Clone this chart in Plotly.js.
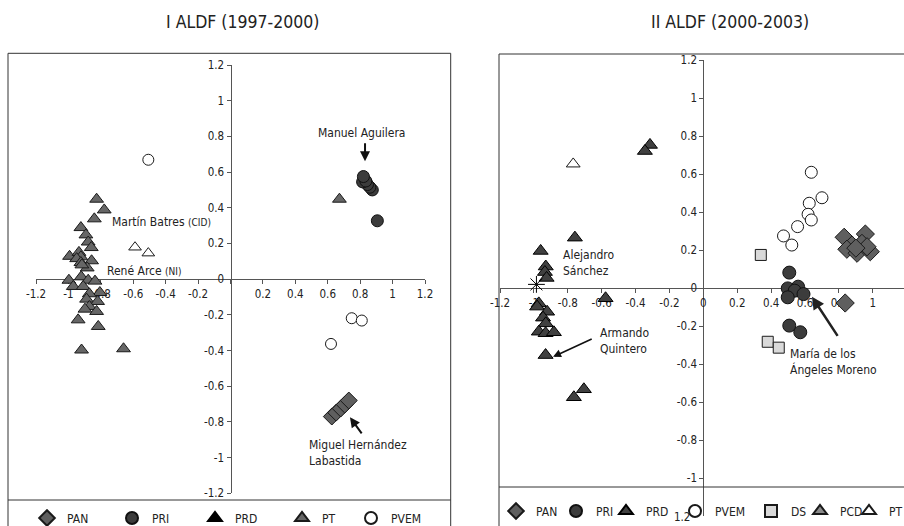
<!DOCTYPE html>
<html>
<head>
<meta charset="utf-8">
<script src="https://cdn.plot.ly/plotly-3.0.1.min.js"></script>
<style>
html,body{margin:0;padding:0;overflow:hidden;background:#fff;width:904px;height:526px;}
#chart{width:910px;height:526px;}
</style>
</head>
<body>
<div id="chart"></div>
<script>
// ---------- Panel titles ----------
const panelTitles = ["I ALDF (1997-2000)", "II ALDF (2000-2003)"];

// ---------- Ticks ----------
const tickVals = [-1.2, -1, -0.8, -0.6, -0.4, -0.2, 0, 0.2, 0.4, 0.6, 0.8, 1, 1.2];
const leftXTickText  = ["-1.2","-1","-0.8","-0.6","-0.4","-0.2","","0.2","0.4","0.6","0.8","1","1.2"];
const leftYTickText  = ["-1.2","-1","-0.8","-0.6","-0.4","-0.2","0","0.2","0.4","0.6","0.8","1","1.2"];
const rightXTickText = ["-1.2","-1","-0.8","-0.6","-0.4","-0.2","0","0.2","0.4","0.6","0.8","1","1.2"];
const rightYTickVals = [-1, -0.8, -0.6, -0.4, -0.2, 0, 0.2, 0.4, 0.6, 0.8, 1, 1.2];
const rightYTickText = ["-1","-0.8","-0.6","-0.4","-0.2","0","0.2","0.4","0.6","0.8","1","1.2"];
const rightHiddenTickLabel = "1.2";

// ---------- Panel 1: I ALDF (1997-2000) ----------
const L_PAN_x = [0.625, 0.652, 0.680, 0.705, 0.730];
const L_PAN_y = [-0.770, -0.748, -0.725, -0.703, -0.680];
const L_PRI_x = [0.906, 0.875, 0.860, 0.845, 0.815, 0.835, 0.820];
const L_PRI_y = [0.327, 0.500, 0.515, 0.530, 0.545, 0.550, 0.575];
const L_PRD_x = [null];
const L_PRD_y = [null];
const L_PT_x = [-0.826,-0.779,-0.840,-0.923,-0.892,-0.878,-0.859,-0.993,-0.935,-0.923,-0.949,-0.923,-0.857,-0.884,-0.917,
                -0.997,-0.970,-0.921,-0.878,-0.836,-0.909,-0.806,-0.871,-0.888,-0.820,-0.871,-0.898,-0.826,-0.940,-0.816,
                -0.919,-0.660,0.672];
const L_PT_y = [0.448,0.388,0.338,0.289,0.248,0.208,0.177,0.128,0.150,0.125,0.115,0.093,0.103,0.063,0.080,
                -0.006,-0.041,0.013,-0.006,-0.011,-0.041,-0.075,-0.082,-0.112,-0.125,-0.153,-0.168,-0.181,-0.228,-0.265,
                -0.397,-0.390,0.448];
const L_PVEM_x = [-0.507, 0.748, 0.810, 0.620];
const L_PVEM_y = [0.669, -0.219, -0.232, -0.363];
const L_OTHER_x = [-0.589, -0.507];   // Martín Batres (CID), René Arce (NI)
const L_OTHER_y = [0.179, 0.146];

// ---------- Panel 2: II ALDF (2000-2003) ----------
const R_PAN_x = [0.831, 0.956, 0.877, 0.936, 0.847, 0.907, 0.985, 0.966, 0.900, 0.837];
const R_PAN_y = [0.267, 0.284, 0.226, 0.235, 0.204, 0.183, 0.191, 0.217, 0.210, -0.079];
const R_PRI_x = [0.507, 0.498, 0.559, 0.539, 0.591, 0.498, 0.507, 0.572];
const R_PRI_y = [0.081, -0.002, 0.007, -0.014, -0.032, -0.049, -0.198, -0.233];
const R_PRD_x = [-0.315,-0.345,-0.758,-0.960,-0.930,-0.935,-0.925,-0.971,-0.981,-0.922,-0.946,-0.930,-0.971,-0.931,-0.882,
                 -0.931,-0.764,-0.705,-0.577];
const R_PRD_y = [0.753,0.721,0.265,0.195,0.113,0.084,0.053,-0.081,-0.098,-0.125,-0.156,-0.186,-0.230,-0.238,-0.233,
                 -0.353,-0.575,-0.533,-0.054];
const R_PVEM_x = [0.637, 0.700, 0.625, 0.618, 0.637, 0.556, 0.473, 0.522];
const R_PVEM_y = [0.609, 0.475, 0.446, 0.388, 0.358, 0.323, 0.274, 0.226];
const R_DS_x = [0.339, 0.380, 0.445];
const R_DS_y = [0.174, -0.283, -0.314];
const R_PCD_x = [null];
const R_PCD_y = [null];
const R_PT_x = [-0.768];
const R_PT_y = [0.653];
const R_IND_x = [-0.985];
const R_IND_y = [0.019];

// ---------- Styling helpers ----------
const FONT = '"DejaVu Sans Condensed", "Liberation Sans Narrow", "DejaVu Sans", sans-serif';
const W = 910, H = 526;
const px = v => v / W;
const py = v => (H - v) / H;

function tr(name, x, y, xa, ya, legend, marker, lw, showlegend) {
  const t = {type:'scatter', mode:'markers', name:name, x:x, y:y, xaxis:xa, yaxis:ya,
          legend:legend, marker:marker, showlegend: showlegend !== false, hoverinfo:'skip', cliponaxis:false};
  if (lw !== null) t.legendwidth = lw;
  return t;
}
const ol = c => ({color:c, width:1});

const data = [
  tr('PAN',  L_PAN_x,  L_PAN_y,  'x','y','legend', {symbol:'diamond', size:13, color:'#5f5f5f', line:ol('#1a1a1a')}, 40),
  tr('PRI',  L_PRI_x,  L_PRI_y,  'x','y','legend', {symbol:'circle', size:12, color:'#3c3c3c', line:ol('#111')}, 38),
  tr('PRD',  L_PRD_x,  L_PRD_y,  'x','y','legend', {symbol:'triangle-up', size:11, color:'#000', line:ol('#000')}, 42),
  tr('PT',   L_PT_x,   L_PT_y,   'x','y','legend', {symbol:'triangle-up', size:12, color:'#666', line:ol('#1a1a1a')}, 24),
  tr('PVEM', L_PVEM_x, L_PVEM_y, 'x','y','legend', {symbol:'circle', size:11, color:'#fff', line:ol('#1a1a1a')}, 40),
  tr('Otros', L_OTHER_x, L_OTHER_y, 'x','y','legend', {symbol:'triangle-up', size:11, color:'#fff', line:ol('#1a1a1a')}, null, false),

  tr('PAN',  R_PAN_x,  R_PAN_y,  'x2','y2','legend2', {symbol:'diamond', size:14, color:'#5f5f5f', line:ol('#1a1a1a')}, 15),
  tr('PRI',  R_PRI_x,  R_PRI_y,  'x2','y2','legend2', {symbol:'circle', size:13, color:'#3c3c3c', line:ol('#111')}, 5),
  tr('PRD',  R_PRD_x,  R_PRD_y,  'x2','y2','legend2', {symbol:'triangle-up', size:13, color:'#404040', line:ol('#000')}, 24),
  tr('PVEM', R_PVEM_x, R_PVEM_y, 'x2','y2','legend2', {symbol:'circle', size:12, color:'#fff', line:ol('#1a1a1a')}, 31),
  tr('DS',   R_DS_x,   R_DS_y,   'x2','y2','legend2', {symbol:'square', size:11, color:'#d9d9d9', line:ol('#1a1a1a')}, 4),
  tr('PCD',  R_PCD_x,  R_PCD_y,  'x2','y2','legend2', {symbol:'triangle-up', size:12, color:'#8a8a8a', line:ol('#1a1a1a')}, 4),
  tr('PT',   R_PT_x,   R_PT_y,   'x2','y2','legend2', {symbol:'triangle-up', size:12, color:'#fff', line:ol('#1a1a1a')}, 14),
  tr('Ind.', R_IND_x,  R_IND_y,  'x2','y2','legend2', {symbol:'asterisk-open', size:14, color:'#000', line:{color:'#000', width:1}}, null, false)
];

const axisCommon = {
  showgrid:false, zeroline:false, showline:true, linecolor:'#555', linewidth:1,
  ticks:'outside', ticklen:4, tickcolor:'#555', tickwidth:1,
  tickfont:{family:FONT, size:11.5, color:'#222'}, layer:'below traces', fixedrange:true
};

const legendCommon = {orientation:'h', xanchor:'left', yanchor:'middle', bgcolor:'rgba(0,0,0,0)',
  font:{family:FONT, size:12, color:'#222'}, entrywidthmode:'pixels', traceorder:'normal', itemwidth:30, itemsizing:'constant'};

const layout = {
  width: W, height: H,
  margin:{l:0, r:0, t:0, b:0, autoexpand:false},
  paper_bgcolor:'#fff', plot_bgcolor:'rgba(0,0,0,0)',
  font:{family:FONT, size:12, color:'#222'},
  xaxis: Object.assign({}, axisCommon, {domain:[px(36), px(425)], range:[-1.2,1.2], anchor:'free', position:py(279.3),
          tickmode:'array', tickvals:tickVals, ticktext:leftXTickText}),
  yaxis: Object.assign({}, axisCommon, {domain:[py(493.3), py(65)], range:[-1.2,1.2], anchor:'free', position:px(230.5),
          tickmode:'array', tickvals:tickVals, ticktext:leftYTickText}),
  xaxis2: Object.assign({}, axisCommon, {domain:[px(500), px(906.7)], range:[-1.2,1.2], anchor:'free', position:py(288),
          tickmode:'array', tickvals:tickVals, ticktext:rightXTickText}),
  yaxis2: Object.assign({}, axisCommon, {domain:[py(516), py(60)], range:[-1.2,1.2], anchor:'free', position:px(703.3),
          tickmode:'array', tickvals:rightYTickVals, ticktext:rightYTickText}),
  legend: Object.assign({}, legendCommon, {x:px(27), y:py(518)}),
  legend2: Object.assign({}, legendCommon, {x:px(496), y:py(511)}),
  shapes: [
    {type:'rect', xref:'paper', yref:'paper', x0:px(8), x1:px(450.7), y0:py(540), y1:py(53.3), line:{color:'#333', width:1}, fillcolor:'rgba(0,0,0,0)', layer:'below'},
    {type:'line', xref:'paper', yref:'paper', x0:px(8), x1:px(450.7), y0:py(500), y1:py(500), line:{color:'#333', width:1}},
    {type:'rect', xref:'paper', yref:'paper', x0:px(499), x1:px(930), y0:py(540), y1:py(54), line:{color:'#333', width:1}, fillcolor:'rgba(0,0,0,0)', layer:'below'},
    {type:'line', xref:'paper', yref:'paper', x0:px(499), x1:px(930), y0:py(487), y1:py(487), line:{color:'#333', width:1}}
  ],
  annotations: [
    {text:panelTitles[0], xref:'paper', yref:'paper', x:px(242), y:py(22), showarrow:false, xanchor:'center', yanchor:'middle', font:{family:FONT, size:17.5, color:'#222'}},
    {text:panelTitles[1], xref:'paper', yref:'paper', x:px(730), y:py(22), showarrow:false, xanchor:'center', yanchor:'middle', font:{family:FONT, size:17.5, color:'#222'}},

    {text:'Manuel Aguilera', xref:'x', yref:'y', x:0.81, y:0.82, showarrow:false, xanchor:'center', yanchor:'middle', font:{family:FONT, size:12}},
    {text:'', xref:'x', yref:'y', axref:'x', ayref:'y', x:0.83, y:0.66, ax:0.83, ay:0.77, showarrow:true, arrowhead:2, arrowsize:1, arrowwidth:2, arrowcolor:'#111'},
    {text:'Martín Batres <span style="font-size:10px">(CID)</span>', xref:'x', yref:'y', x:-0.105, y:0.32, showarrow:false, xanchor:'right', yanchor:'middle', font:{family:FONT, size:12}},
    {text:'René Arce <span style="font-size:10px">(NI)</span>', xref:'x', yref:'y', x:-0.29, y:0.045, showarrow:false, xanchor:'right', yanchor:'middle', font:{family:FONT, size:12}},
    {text:'Miguel Hernández<br>Labastida', xref:'x', yref:'y', x:0.475, y:-0.973, showarrow:false, xanchor:'left', yanchor:'middle', align:'left', font:{family:FONT, size:12}},
    {text:'', xref:'x', yref:'y', axref:'x', ayref:'y', x:0.737, y:-0.774, ax:0.816, ay:-0.873, showarrow:true, arrowhead:2, arrowsize:1, arrowwidth:2, arrowcolor:'#111'},

    {text:'Alejandro<br>Sánchez', xref:'x2', yref:'y2', x:-0.84, y:0.13, showarrow:false, xanchor:'left', yanchor:'middle', align:'left', font:{family:FONT, size:12}},
    {text:'Armando<br>Quintero', xref:'x2', yref:'y2', x:-0.623, y:-0.279, showarrow:false, xanchor:'left', yanchor:'middle', align:'left', font:{family:FONT, size:12}},
    {text:'', xref:'x2', yref:'y2', axref:'x2', ayref:'y2', x:-0.887, y:-0.362, ax:-0.65, ay:-0.265, showarrow:true, arrowhead:2, arrowsize:1, arrowwidth:1.6, arrowcolor:'#111'},
    {text:'María de los<br>Ángeles Moreno', xref:'x2', yref:'y2', x:0.5, y:-0.392, showarrow:false, xanchor:'left', yanchor:'middle', align:'left', font:{family:FONT, size:12}},
    {text:'', xref:'x2', yref:'y2', axref:'x2', ayref:'y2', x:0.641, y:-0.046, ax:0.798, ay:-0.26, showarrow:true, arrowhead:2, arrowsize:1, arrowwidth:2.5, arrowcolor:'#222'},

    {text:rightHiddenTickLabel, xref:'x2', yref:'y2', x:0, y:-1.2, xshift:-11, yshift:-1, showarrow:false, xanchor:'right', yanchor:'middle', font:{family:FONT, size:11.5, color:'#222'}}
  ]
};

Plotly.newPlot('chart', data, layout, {staticPlot:true, displayModeBar:false});
</script>
</body>
</html>
